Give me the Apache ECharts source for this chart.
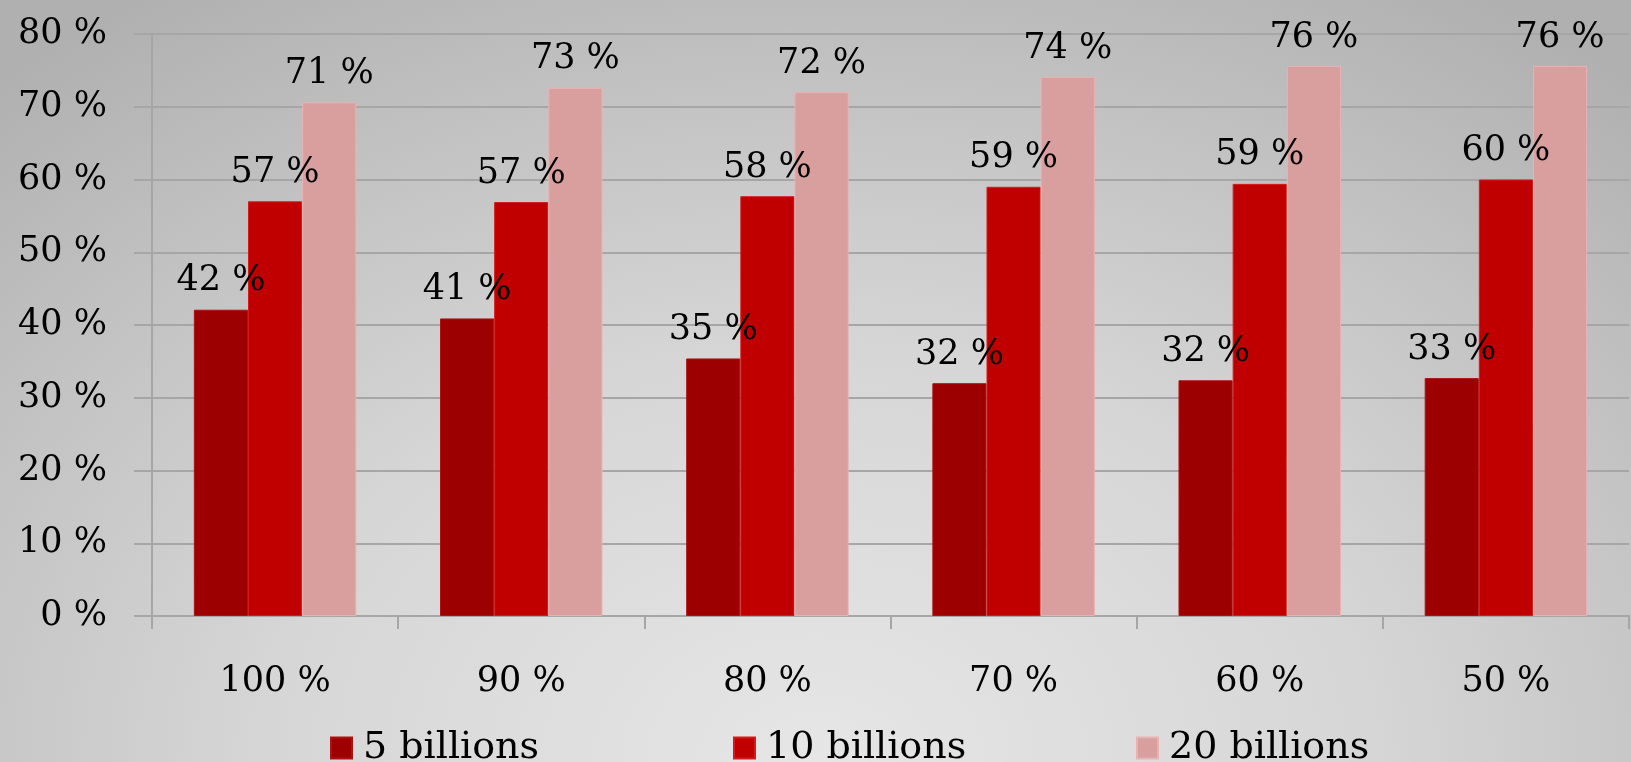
<!DOCTYPE html>
<html><head><meta charset="utf-8">
<script src="https://cdn.jsdelivr.net/npm/echarts@6/dist/echarts.min.js"></script>
<style>
html,body{margin:0;padding:0;width:1631px;height:762px;overflow:hidden;
background: radial-gradient(ellipse 75% 120% at 50% 100%, #e6e6e6 0%, #d6d6d6 45%, #c2c2c2 75%, #b0b0b0 100%);}
#c{width:1631px;height:762px;}
</style></head><body><div id="c"></div>
<script>
const categories = ['100 %','90 %','80 %','70 %','60 %','50 %'];
const seriesNames = ['5 billions','10 billions','20 billions'];
const s5 = [42.1, 40.9, 35.4, 32.0, 32.4, 32.7];
const s10 = [57.0, 56.9, 57.7, 59.0, 59.4, 60.0];
const s20 = [70.6, 72.6, 72.0, 74.1, 75.6, 75.6];
const yTicks = [0,10,20,30,40,50,60,70,80];

const FONT = '"DejaVu Serif", serif';
const colors = ['#9c0000','#c00000','#d99e9e'];
const borders = ['#b01010','#d41a1a','#e9b2b2'];
const chart = echarts.init(document.getElementById('c'), null, {renderer:'canvas'});
function mk(name, data, i){
  return {name, type:'bar', data, barGap:'0%', barCategoryGap:'34%',
    itemStyle:{color:colors[i], borderColor:borders[i], borderWidth:1},
    label:{show:true, position:'top', distance:11, color:'#000', fontFamily:FONT, fontSize:35,
      formatter:p=>Math.round(p.value)+' %'}};
}
function legend(i, left){
  return {data:[seriesNames[i]], left, top:724, itemWidth:21, itemHeight:21, icon:'rect',
    textStyle:{fontFamily:FONT, fontSize:38, color:'#000', padding:[0,0,0,6]}, selectedMode:false};
}
chart.setOption({
  backgroundColor:'transparent',
  animation:false,
  color:colors,
  legend:[legend(0,325),legend(1,728),legend(2,1131)],
  grid:{left:152, right:2, top:34, bottom:146},
  xAxis:{type:'category', data:categories,
    axisLine:{lineStyle:{color:'#a6a6a6', width:2}},
    axisTick:{show:true, length:13, lineStyle:{color:'#a6a6a6', width:2}},
    axisLabel:{fontFamily:FONT, fontSize:35, color:'#000', margin:48}},
  yAxis:{type:'value', min:0, max:80, interval:10,
    axisLine:{show:true, lineStyle:{color:'#a6a6a6', width:2}},
    axisTick:{show:true, length:18, lineStyle:{color:'#a6a6a6', width:2}},
    splitLine:{lineStyle:{color:'#a6a6a6', width:2}},
    axisLabel:{fontFamily:FONT, fontSize:35, color:'#000', margin:45,
      formatter:v=>yTicks.includes(v)? v+' %' : ''}},
  series:[mk(seriesNames[0],s5,0),mk(seriesNames[1],s10,1),mk(seriesNames[2],s20,2)]
});
</script></body></html>
